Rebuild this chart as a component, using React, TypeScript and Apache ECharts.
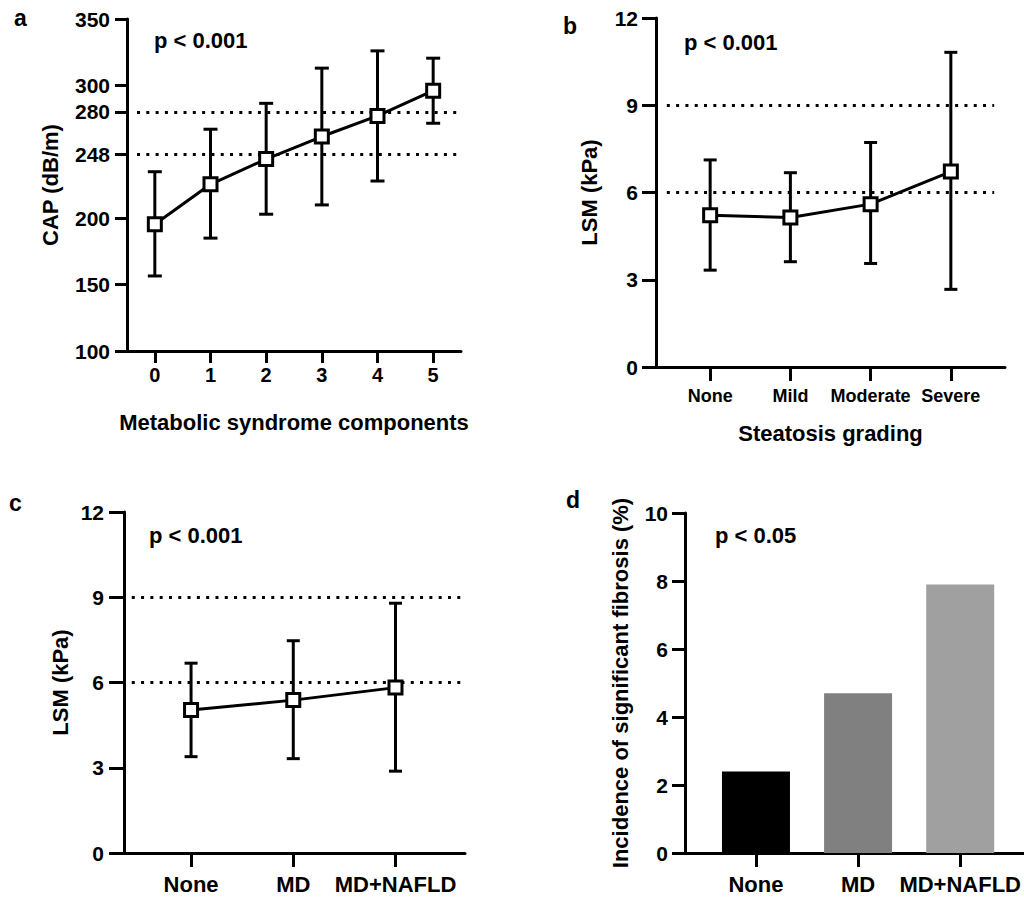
import React, { useEffect, useRef } from "react";
import * as echarts from "echarts";

// ---------- data ----------
const capCategories = ["0", "1", "2", "3", "4", "5"];
const capMean = [195.5, 225.5, 244.5, 261.5, 277, 296];
const capLow = [156.5, 185, 203, 210, 228, 271.5];
const capHigh = [235, 267, 286.5, 313, 326, 320.5];
const capTicks = [100, 150, 200, 248, 280, 300, 350];
const capThresholds = [248, 280];

const steatosisCategories = ["None", "Mild", "Moderate", "Severe"];
const lsmSteatosisMean = [5.22, 5.14, 5.6, 6.72];
const lsmSteatosisLow = [3.33, 3.62, 3.56, 2.67];
const lsmSteatosisHigh = [7.12, 6.68, 7.72, 10.82];

const groupCategories = ["None", "MD", "MD+NAFLD"];
const lsmGroupMean = [5.03, 5.38, 5.82];
const lsmGroupLow = [3.39, 3.32, 2.88];
const lsmGroupHigh = [6.68, 7.47, 8.79];
const lsmThresholds = [6, 9];

const fibrosisIncidence = [2.4, 4.7, 7.9];
const barColors = ["#000000", "#808080", "#a0a0a0"];

const panelLetters = ["a", "b", "c", "d"];
const pValues = ["p < 0.001", "p < 0.001", "p < 0.001", "p < 0.05"];

// ---------- helpers ----------
const FONT = "'Liberation Sans', Arial, Helvetica, sans-serif";

const errorRender = (capHalf: number) => (params: any, api: any) => {
  const x = api.value(0);
  const lo = api.coord([x, api.value(1)]);
  const hi = api.coord([x, api.value(2)]);
  const style = { stroke: "#000", lineWidth: 3 };
  return {
    type: "group",
    children: [
      { type: "line", shape: { x1: lo[0], y1: lo[1], x2: hi[0], y2: hi[1] }, style },
      { type: "line", shape: { x1: lo[0] - capHalf, y1: lo[1], x2: lo[0] + capHalf, y2: lo[1] }, style },
      { type: "line", shape: { x1: hi[0] - capHalf, y1: hi[1], x2: hi[0] + capHalf, y2: hi[1] }, style },
    ],
  };
};

const axisLine = { show: true, onZero: false, lineStyle: { color: "#000", width: 3 } };
const axisTick = (len: number, custom?: number[]) => ({
  show: true,
  length: len,
  lineStyle: { color: "#000", width: 3 },
  ...(custom ? { customValues: custom } : {}),
});

const dotted = { color: "#000", width: 3, type: [3, 6.3] as any };

function buildOption(): any {
  const idx = (arr: any[]) => arr.map((_, i) => i);

  const xAxis = [
    {
      type: "value", gridIndex: 0, min: -0.5, max: 5.5,
      axisLine, axisTick: axisTick(12, idx(capCategories)), splitLine: { show: false },
      axisLabel: {
        customValues: idx(capCategories), margin: 14, color: "#000", fontSize: 20, fontWeight: "bold", fontFamily: FONT,
        formatter: (v: number) => capCategories[Math.round(v)],
      },
      name: "Metabolic syndrome components", nameLocation: "middle", nameGap: 60,
      nameTextStyle: { color: "#000", fontSize: 22, fontWeight: "bold", fontFamily: FONT },
    },
    {
      type: "value", gridIndex: 1, min: -0.675, max: 3.675,
      axisLine, axisTick: axisTick(14, idx(steatosisCategories)), splitLine: { show: false },
      axisLabel: {
        customValues: idx(steatosisCategories), margin: 20, color: "#000", fontSize: 18, fontWeight: "bold", fontFamily: FONT,
        formatter: (v: number) => steatosisCategories[Math.round(v)],
      },
      name: "Steatosis grading", nameLocation: "middle", nameGap: 55,
      nameTextStyle: { color: "#000", fontSize: 22, fontWeight: "bold", fontFamily: FONT },
    },
    {
      type: "value", gridIndex: 2, min: -0.656, max: 2.68,
      axisLine, axisTick: axisTick(14, idx(groupCategories)), splitLine: { show: false },
      axisLabel: {
        customValues: idx(groupCategories), margin: 20, color: "#000", fontSize: 22, fontWeight: "bold", fontFamily: FONT,
        formatter: (v: number) => groupCategories[Math.round(v)],
      },
    },
    {
      type: "value", gridIndex: 3, min: -0.695, max: 2.62,
      axisLine, axisTick: axisTick(14, idx(groupCategories)), splitLine: { show: false },
      axisLabel: {
        customValues: idx(groupCategories), margin: 20, color: "#000", fontSize: 22, fontWeight: "bold", fontFamily: FONT,
        formatter: (v: number) => groupCategories[Math.round(v)],
      },
    },
  ];

  const yLabel = (margin: number) => ({ margin, color: "#000", fontSize: 21, fontWeight: "bold", fontFamily: FONT });
  const yName = { color: "#000", fontSize: 22, fontWeight: "bold", fontFamily: FONT };

  const yAxis = [
    {
      type: "value", gridIndex: 0, min: 100, max: 350,
      axisLine, axisTick: axisTick(12, capTicks), splitLine: { show: false },
      axisLabel: { ...yLabel(17), customValues: capTicks },
      name: "CAP (dB/m)", nameLocation: "middle", nameGap: 66, nameTextStyle: yName,
    },
    {
      type: "value", gridIndex: 1, min: 0, max: 12, interval: 3,
      axisLine, axisTick: axisTick(14), splitLine: { show: false },
      axisLabel: yLabel(18),
      name: "LSM (kPa)", nameLocation: "middle", nameGap: 56, nameTextStyle: yName,
    },
    {
      type: "value", gridIndex: 2, min: 0, max: 12, interval: 3,
      axisLine, axisTick: axisTick(15), splitLine: { show: false },
      axisLabel: yLabel(20),
      name: "LSM (kPa)", nameLocation: "middle", nameGap: 53, nameTextStyle: yName,
    },
    {
      type: "value", gridIndex: 3, min: 0, max: 10, interval: 2,
      axisLine, axisTick: axisTick(13), splitLine: { show: false },
      axisLabel: yLabel(17),
      name: "Incidence of significant fibrosis (%)", nameLocation: "middle", nameGap: 54, nameTextStyle: yName,
    },
  ];

  const grid = [
    { left: 127, top: 19, width: 334, height: 332 },
    { left: 656, top: 18, width: 349, height: 349 },
    { left: 124, top: 512, width: 341, height: 341 },
    { left: 685, top: 513, width: 339, height: 340 },
  ];

  const markLines = (thresholds: number[], x0: number, x1: number) => ({
    symbol: "none", silent: true, label: { show: false }, lineStyle: dotted,
    data: thresholds.map((t) => [{ coord: [x0, t] }, { coord: [x1, t] }]),
  });

  const errSeries = (i: number, low: number[], high: number[], capHalf: number, ml: any) => ({
    type: "custom", xAxisIndex: i, yAxisIndex: i, z: 2,
    renderItem: errorRender(capHalf),
    encode: { x: 0, y: [1, 2] },
    data: low.map((l, k) => [k, l, high[k]]),
    markLine: ml,
  });

  const lineSeries = (i: number, mean: number[]) => ({
    type: "line", xAxisIndex: i, yAxisIndex: i, z: 5,
    symbol: "rect", symbolSize: 13,
    itemStyle: { color: "#fff", borderColor: "#000", borderWidth: 3 },
    lineStyle: { color: "#000", width: 3 },
    data: mean.map((m, k) => [k, m]),
  });

  const series = [
    errSeries(0, capLow, capHigh, 7, markLines(capThresholds, -0.32, 5.48)),
    lineSeries(0, capMean),
    errSeries(1, lsmSteatosisLow, lsmSteatosisHigh, 6.5, markLines(lsmThresholds, -0.54, 3.54)),
    lineSeries(1, lsmSteatosisMean),
    errSeries(2, lsmGroupLow, lsmGroupHigh, 6.5, markLines(lsmThresholds, -0.58, 2.65)),
    lineSeries(2, lsmGroupMean),
    {
      type: "bar", xAxisIndex: 3, yAxisIndex: 3, barWidth: 68,
      data: fibrosisIncidence.map((v, k) => ({ value: [k, v], itemStyle: { color: barColors[k] } })),
    },
  ];

  const letterPos = [[14, 17.5], [563, 25.5], [9, 502.5], [566, 499.5]];
  const pPos = [[154, 40.5], [684, 42.3], [149, 535], [715, 535.6]];
  const graphic: any[] = [];
  panelLetters.forEach((t, i) => {
    graphic.push({
      type: "text", x: letterPos[i][0], y: letterPos[i][1],
      style: { text: t, fill: "#000", font: `bold 23px ${FONT}`, verticalAlign: "middle", align: "left" },
    });
  });
  pValues.forEach((t, i) => {
    graphic.push({
      type: "text", x: pPos[i][0], y: pPos[i][1],
      style: { text: t, fill: "#000", font: `bold 22px ${FONT}`, verticalAlign: "middle", align: "left" },
    });
  });

  return {
    animation: false,
    backgroundColor: "#fff",
    textStyle: { fontFamily: FONT },
    grid, xAxis, yAxis, series, graphic,
  };
}

export default function App() {
  const ref = useRef<HTMLDivElement>(null);
  useEffect(() => {
    document.body.style.margin = "0";
    if (!ref.current) return;
    const chart = echarts.init(ref.current, undefined, { renderer: "svg" });
    chart.setOption(buildOption());
    return () => chart.dispose();
  }, []);
  return <div ref={ref} style={{ width: 1024, height: 897 }} />;
}
